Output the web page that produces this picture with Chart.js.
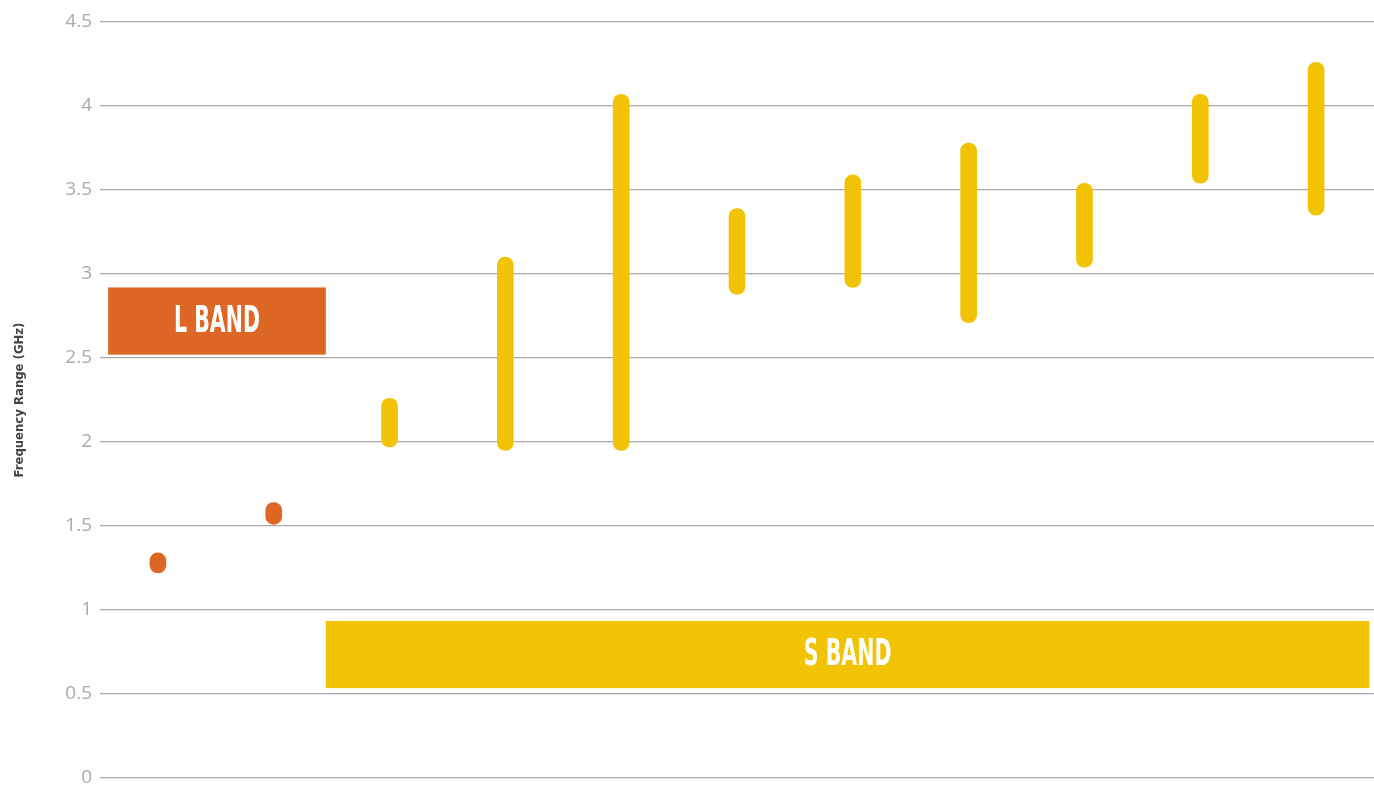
<!DOCTYPE html>
<html>
<head>
<meta charset="utf-8">
<title>Frequency Range</title>
<script src="https://cdn.jsdelivr.net/npm/chart.js@4"></script>
<style>
    html, body { margin: 0; padding: 0; background: #ffffff; }
    canvas { display: block; }
</style>
</head>
<body>
<canvas id="bandChart" width="1374" height="786"></canvas>
<script>
// positions along the x axis (no labels are shown in the original)
const categories = ['1', '2', '3', '4', '5', '6', '7', '8', '9', '10', '11'];

// floating ranges in GHz, [low, high]
const lBandRanges = [[1.22, 1.34], [1.51, 1.64], null, null, null, null, null, null, null, null, null];
const sBandRanges = [null, null, [1.97, 2.26], [1.95, 3.1], [1.95, 4.07], [2.88, 3.39],
                     [2.92, 3.59], [2.71, 3.78], [3.04, 3.54], [3.54, 4.07], [3.35, 4.26]];

// band label boxes: category span and GHz span
const bandNames = ['L BAND', 'S BAND'];
const bandFrom = [-0.43, 1.45];
const bandTo = [1.45, 10.46];
const bandLow = [2.52, 0.535];
const bandHigh = [2.92, 0.935];

const yTicks = { min: 0, max: 4.5, step: 0.5 };

const orange = '#DE6726';
const yellow = '#F2C304';
const bandColors = [orange, yellow];

// draws the labelled band boxes using the chart's own scales
const bandBoxes = {
    id: 'bandBoxes',
    afterDatasetsDraw(chart) {
        const { ctx, scales: { x, y } } = chart;
        ctx.save();
        bandNames.forEach((name, i) => {
            const left = x.getPixelForValue(bandFrom[i]);
            const right = x.getPixelForValue(bandTo[i]);
            const top = y.getPixelForValue(bandHigh[i]);
            const bottom = y.getPixelForValue(bandLow[i]);
            ctx.fillStyle = bandColors[i];
            ctx.fillRect(left, top, right - left, bottom - top);

            // condensed white caption
            ctx.save();
            ctx.translate((left + right) / 2, (top + bottom) / 2 + 1);
            ctx.scale(0.6, 1);
            ctx.fillStyle = '#ffffff';
            ctx.font = 'bold 38px "DejaVu Sans Condensed", sans-serif';
            ctx.textAlign = 'center';
            ctx.textBaseline = 'middle';
            ctx.fillText(name, 0, 0);
            ctx.restore();
        });
        ctx.restore();
    }
};

const ctx = document.getElementById('bandChart').getContext('2d');
const bandChart = new Chart(ctx, {
    type: 'bar',
    data: {
        labels: categories,
        datasets: [{
            label: 'L Band',
            data: lBandRanges,
            backgroundColor: orange,
            borderRadius: 8,
            borderSkipped: false,
            barThickness: 16,
            grouped: false
        }, {
            label: 'S Band',
            data: sBandRanges,
            backgroundColor: yellow,
            borderRadius: 8,
            borderSkipped: false,
            barThickness: 16,
            grouped: false
        }]
    },
    options: {
        responsive: false,
        animation: false,
        layout: {
            padding: { top: 22, right: 0, bottom: 8, left: 0 }
        },
        plugins: {
            legend: { display: false },
            tooltip: { enabled: false }
        },
        scales: {
            x: {
                display: false
            },
            y: {
                min: yTicks.min,
                max: yTicks.max,
                border: { display: false },
                grid: {
                    color: '#a8a8a8',
                    lineWidth: 1.2,
                    drawTicks: false
                },
                ticks: {
                    stepSize: yTicks.step,
                    padding: 8,
                    color: '#aaaaaa',
                    font: { family: '"Open Sans"', size: 19, weight: 'normal' },
                    callback: (value) => String(Number(value.toFixed(1)))
                },
                title: {
                    display: true,
                    text: 'Frequency Range (GHz)',
                    color: '#444444',
                    font: { family: '"DejaVu Sans Condensed", sans-serif', size: 13, weight: 'bold' },
                    padding: { top: 12, bottom: 0 }
                },
                afterFit(scale) {
                    scale.width = 100;  // keep the plot starting at x=100
                    scale.paddingTop = 0;
                    scale.paddingBottom = 0;
                }
            }
        }
    },
    plugins: [bandBoxes]
});
</script>
</body>
</html>
